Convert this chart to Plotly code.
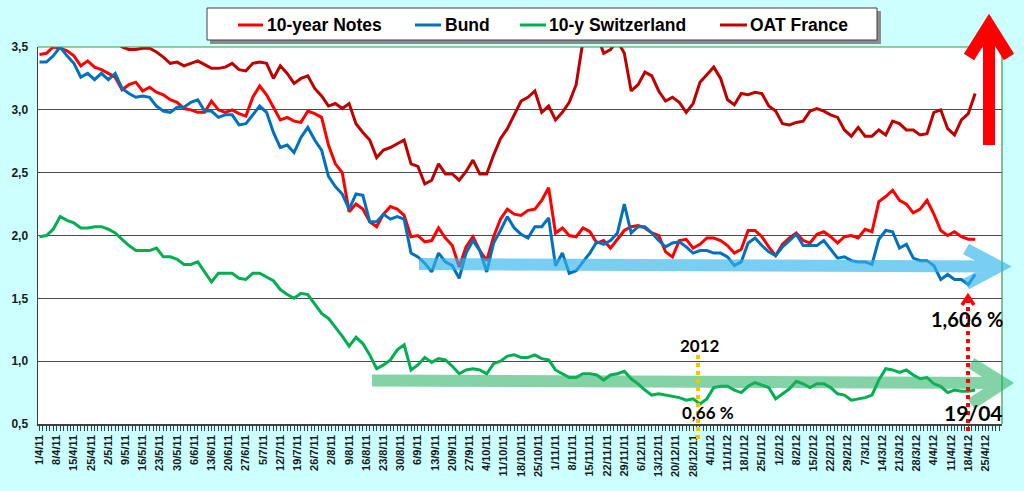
import plotly.graph_objects as go

# ---------------- data (trading-day index, every 2nd session) ----------------
day_index = list(range(0, 273, 2))

notes_10y = [3.44, 3.45, 3.50, 3.49, 3.47, 3.43, 3.35, 3.39, 3.34, 3.32,
             3.29, 3.26, 3.16, 3.20, 3.22, 3.15, 3.18, 3.14, 3.12, 3.08,
             3.06, 3.01, 3.00, 2.98, 2.98, 3.07, 3.00, 2.98, 3.00, 2.97,
             2.95, 3.10, 3.19, 3.12, 3.02, 2.92, 2.94, 2.91, 2.90, 2.99,
             2.97, 2.94, 2.72, 2.57, 2.50, 2.19, 2.25, 2.21, 2.11, 2.07,
             2.17, 2.23, 2.21, 2.16, 1.99, 2.00, 1.95, 1.96, 2.06, 1.98,
             1.92, 1.75, 1.91, 1.99, 1.88, 1.80, 1.99, 2.13, 2.21, 2.17,
             2.16, 2.20, 2.21, 2.28, 2.38, 2.02, 2.06, 2.00, 1.99, 2.06,
             2.03, 1.94, 1.96, 1.90, 1.97, 2.04, 2.07, 2.08, 2.06, 2.02,
             2.00, 1.87, 1.83, 1.96, 1.97, 1.90, 1.93, 1.98, 1.98, 1.96,
             1.92, 1.86, 1.89, 2.04, 2.04, 1.99, 1.91, 1.84, 1.93, 1.98,
             2.02, 1.96, 1.94, 2.01, 2.03, 1.99, 1.94, 1.99, 2.00, 1.98,
             2.05, 2.03, 2.27, 2.31, 2.36, 2.28, 2.25, 2.18, 2.21, 2.28,
             2.17, 2.04, 2.00, 2.03, 1.99, 1.97, 1.97]

bund = [3.38, 3.38, 3.43, 3.50, 3.43, 3.37, 3.26, 3.29, 3.24, 3.29,
        3.24, 3.29, 3.17, 3.13, 3.10, 3.11, 3.10, 3.03, 2.99, 2.98,
        3.02, 3.02, 3.06, 3.08, 2.99, 2.99, 2.94, 2.96, 2.96, 2.88,
        2.89, 2.96, 3.03, 2.98, 2.82, 2.70, 2.72, 2.66, 2.78, 2.86,
        2.76, 2.68, 2.47, 2.39, 2.33, 2.21, 2.33, 2.32, 2.11, 2.11,
        2.17, 2.13, 2.15, 2.13, 1.86, 1.83, 1.78, 1.71, 1.86, 1.79,
        1.76, 1.66, 1.86, 1.96, 1.88, 1.71, 1.94, 2.04, 2.15, 2.06,
        2.01, 1.98, 2.07, 2.07, 2.14, 1.76, 1.86, 1.70, 1.72, 1.79,
        1.86, 1.95, 1.93, 1.96, 2.02, 2.25, 2.02, 2.07, 2.07, 2.02,
        1.96, 1.91, 1.94, 1.95, 1.91, 1.86, 1.88, 1.88, 1.86, 1.86,
        1.83, 1.76, 1.79, 1.94, 1.98, 1.92, 1.87, 1.84, 1.91, 1.96,
        2.01, 1.92, 1.92, 1.92, 1.96, 1.89, 1.82, 1.83, 1.80, 1.79,
        1.79, 1.77, 1.97, 2.04, 2.03, 1.90, 1.93, 1.82, 1.80, 1.80,
        1.76, 1.65, 1.69, 1.65, 1.65, 1.61, 1.69]

swiss_10y = [1.99, 2.00, 2.05, 2.15, 2.12, 2.10, 2.06, 2.06, 2.07, 2.07,
             2.05, 2.02, 1.97, 1.92, 1.88, 1.88, 1.88, 1.90, 1.83, 1.83,
             1.81, 1.77, 1.77, 1.79, 1.71, 1.63, 1.70, 1.70, 1.70, 1.66,
             1.65, 1.70, 1.70, 1.67, 1.64, 1.57, 1.53, 1.50, 1.54, 1.53,
             1.45, 1.38, 1.34, 1.27, 1.20, 1.12, 1.19, 1.14, 1.05, 0.94,
             0.97, 1.01, 1.09, 1.13, 0.93, 0.97, 1.03, 0.99, 1.02, 1.01,
             0.96, 0.90, 0.93, 0.94, 0.93, 0.90, 0.98, 1.00, 1.04, 1.05,
             1.03, 1.03, 1.05, 1.02, 1.01, 0.93, 0.90, 0.87, 0.87, 0.90,
             0.90, 0.89, 0.85, 0.89, 0.90, 0.92, 0.86, 0.82, 0.77, 0.73,
             0.74, 0.73, 0.72, 0.71, 0.69, 0.70, 0.66, 0.70, 0.79, 0.80,
             0.80, 0.77, 0.75, 0.80, 0.83, 0.81, 0.79, 0.70, 0.74, 0.78,
             0.84, 0.82, 0.79, 0.82, 0.82, 0.79, 0.74, 0.73, 0.69, 0.70,
             0.71, 0.73, 0.85, 0.94, 0.93, 0.91, 0.93, 0.89, 0.86, 0.87,
             0.82, 0.80, 0.75, 0.77, 0.76, 0.76, 0.77]

oat_france = [3.62, 3.65, 3.70, 3.68, 3.66, 3.64, 3.62, 3.60, 3.61, 3.60,
              3.58, 3.55, 3.50, 3.48, 3.48, 3.49, 3.49, 3.46, 3.42, 3.37,
              3.38, 3.35, 3.37, 3.39, 3.36, 3.33, 3.33, 3.34, 3.37, 3.32,
              3.31, 3.37, 3.38, 3.37, 3.25, 3.35, 3.29, 3.21, 3.25, 3.27,
              3.17, 3.11, 3.03, 3.05, 3.01, 3.05, 2.89, 2.82, 2.76, 2.62,
              2.68, 2.70, 2.73, 2.76, 2.57, 2.55, 2.41, 2.44, 2.57, 2.49,
              2.49, 2.44, 2.51, 2.60, 2.49, 2.49, 2.64, 2.77, 2.85, 2.96,
              3.07, 3.10, 3.15, 2.98, 3.03, 2.92, 2.98, 3.06, 3.20, 3.55,
              3.60, 3.60, 3.45, 3.48, 3.55, 3.45, 3.15, 3.20, 3.30, 3.27,
              3.15, 3.07, 3.10, 3.06, 2.98, 3.05, 3.22, 3.28, 3.34, 3.25,
              3.08, 3.04, 3.13, 3.12, 3.14, 3.13, 3.03, 2.99, 2.89, 2.88,
              2.90, 2.91, 2.99, 3.01, 2.99, 2.96, 2.94, 2.84, 2.79, 2.86,
              2.79, 2.79, 2.84, 2.80, 2.91, 2.89, 2.84, 2.84, 2.80, 2.81,
              2.98, 3.00, 2.85, 2.80, 2.92, 2.97, 3.13]

series_names = ["10-year Notes", "Bund", "10-y Switzerland", "OAT France"]
series_colors = ["#ff0000", "#0070c0", "#00b050", "#c00000"]

tick_positions = list(range(0, 276, 5))
tick_labels = ["1/4/11", "8/4/11", "15/4/11", "25/4/11", "2/5/11", "9/5/11",
               "16/5/11", "23/5/11", "30/5/11", "6/6/11", "13/6/11", "20/6/11",
               "27/6/11", "5/7/11", "12/7/11", "19/7/11", "26/7/11", "2/8/11",
               "9/8/11", "16/8/11", "23/8/11", "30/8/11", "6/9/11", "13/9/11",
               "20/9/11", "27/9/11", "4/10/11", "11/10/11", "18/10/11",
               "25/10/11", "1/11/11", "8/11/11", "15/11/11", "22/11/11",
               "29/11/11", "6/12/11", "13/12/11", "20/12/11", "28/12/11",
               "4/1/12", "11/1/12", "18/1/12", "25/1/12", "1/2/12", "8/2/12",
               "15/2/12", "22/2/12", "29/2/12", "7/3/12", "14/3/12", "21/3/12",
               "28/3/12", "4/4/12", "11/4/12", "18/4/12", "25/4/12"]

y_ticks = [0.5, 1.0, 1.5, 2.0, 2.5, 3.0, 3.5]
y_tick_labels = ["0,5", "1,0", "1,5", "2,0", "2,5", "3,0", "3,5"]

# ---------------- layout geometry (pixels) ----------------
W, H = 1024, 491
ML, MR, MT, MB = 38, 22, 47, 67
PW, PH = W - ML - MR, H - MT - MB


def px(x):
    return (x - ML) / PW


def py(y):
    return (H - MB - y) / PH


def path(*subpaths):
    out = []
    for sp in subpaths:
        pts = ["%s%.5f,%.5f" % ("M" if k == 0 else "L", px(a), py(b))
               for k, (a, b) in enumerate(sp)]
        out.append(" ".join(pts))
    return " ".join(out)


fig = go.Figure()
for name, vals, col in zip(series_names,
                           [notes_10y, bund, swiss_10y, oat_france],
                           series_colors):
    fig.add_trace(go.Scatter(x=day_index, y=vals, mode="lines", name=name,
                             line=dict(color=col, width=3),
                             showlegend=False, hoverinfo="skip"))

shapes = []
annotations = []

# plot border (green top/right)
shapes.append(dict(type="line", xref="paper", yref="paper", x0=0, x1=1, y0=1, y1=1,
                   line=dict(color="#3a9a3a", width=1.2), layer="above"))
shapes.append(dict(type="line", xref="paper", yref="paper", x0=1, x1=1, y0=0, y1=1,
                   line=dict(color="#3a9a3a", width=1.2), layer="above"))

# legend box with shadow
shapes.append(dict(type="rect", xref="paper", yref="paper",
                   x0=px(210), x1=px(881), y0=py(11), y1=py(44),
                   fillcolor="#8c8c8c", line=dict(width=0), layer="above"))
shapes.append(dict(type="rect", xref="paper", yref="paper",
                   x0=px(207), x1=px(877), y0=py(8), y1=py(40),
                   fillcolor="white", line=dict(color="#404040", width=1), layer="above"))
legend_items = [(238, 263, 265), (415, 441, 443), (520, 546, 547), (720, 747, 748)]
for (l0, l1, tx), name, col in zip(legend_items, series_names, series_colors):
    shapes.append(dict(type="line", xref="paper", yref="paper",
                       x0=px(l0), x1=px(l1), y0=py(25), y1=py(25),
                       line=dict(color=col, width=3), layer="above"))
    annotations.append(dict(text=name, xref="paper", yref="paper", x=px(tx), y=py(25),
                            xanchor="left", yanchor="middle", showarrow=False,
                            font=dict(family="Liberation Sans, Arial", size=17.5,
                                      color="black", weight="bold")))

# light blue horizontal arrow
shapes.append(dict(type="path", xref="paper", yref="paper",
                   path=path([(419, 264), (999, 266.5)],
                             [(966, 249), (999, 266.5), (966, 284)]),
                   line=dict(color="#33b5ee", width=12), opacity=0.65, layer="above"))
# light green horizontal arrow
shapes.append(dict(type="path", xref="paper", yref="paper",
                   path=path([(372, 380.5), (1003, 383)],
                             [(971, 363), (1003, 383), (971, 404)]),
                   line=dict(color="#20b060", width=12), opacity=0.55, layer="above"))
# big red upward arrow
shapes.append(dict(type="path", xref="paper", yref="paper",
                   path=path([(989, 145), (989, 26)],
                             [(969, 57), (989, 25), (1009, 57)]),
                   line=dict(color="#ff0000", width=12), layer="above"))

# 2012 marker line (orange dotted)
shapes.append(dict(type="line", xref="paper", yref="paper",
                   x0=px(698), x1=px(698), y0=py(355), y1=py(440),
                   line=dict(color="#ffc000", width=4, dash="dot"), layer="above"))
# 19/04 marker (red dotted with arrow head)
shapes.append(dict(type="line", xref="paper", yref="paper",
                   x0=px(968), x1=px(968), y0=py(299), y1=py(434),
                   line=dict(color="#ff0000", width=4, dash="dot"), layer="above"))
shapes.append(dict(type="path", xref="paper", yref="paper",
                   path=path([(962, 305), (968, 296), (974, 305)]),
                   line=dict(color="#ff0000", width=3.5), layer="above"))

txt_font = dict(family="Lato, Open Sans", color="black", weight="bold")
for text, x, y, size in [("2012", 700, 345, 17), ("0,66 %", 708, 412, 17),
                         ("1,606 %", 967, 319, 20), ("19/04", 973, 412, 21)]:
    annotations.append(dict(text=text, xref="paper", yref="paper", x=px(x), y=py(y),
                            xanchor="center", yanchor="middle", showarrow=False,
                            font=dict(size=size, **txt_font)))

fig.update_layout(
    width=W, height=H,
    margin=dict(l=ML, r=MR, t=MT, b=MB, pad=0),
    paper_bgcolor="#ccffff",
    plot_bgcolor="white",
    showlegend=False,
    hovermode=False,
    shapes=shapes,
    annotations=annotations,
    xaxis=dict(range=[-0.44, 279.8], tickmode="array", tickvals=tick_positions,
               ticktext=tick_labels, tickangle=-90, showgrid=False, zeroline=False,
               showline=True, linecolor="#404040", linewidth=1.5,
               ticks="outside", ticklen=5, tickcolor="#404040", tickwidth=1,
               minor=dict(tickmode="linear", tick0=0, dtick=1, ticks="outside",
                          ticklen=5, tickcolor="#404040", tickwidth=1, showgrid=False),
               tickfont=dict(family="Liberation Sans, Arial", size=11,
                             color="#1a1a1a", weight="bold")),
    yaxis=dict(range=[0.5, 3.5], tickmode="array", tickvals=y_ticks,
               ticktext=y_tick_labels, showgrid=True, gridcolor="#4a4a4a",
               gridwidth=1, zeroline=False, showline=True, linecolor="#404040",
               linewidth=1.5, ticks="", ticklabelstandoff=6,
               tickfont=dict(family="Liberation Sans, Arial", size=12,
                             color="#1a1a1a", weight="bold")),
)

fig.write_html("out.html",
               config={"displayModeBar": False, "staticPlot": True},
               post_script="document.body.style.margin='0px';"
                           "document.body.style.background='#ccffff';")
